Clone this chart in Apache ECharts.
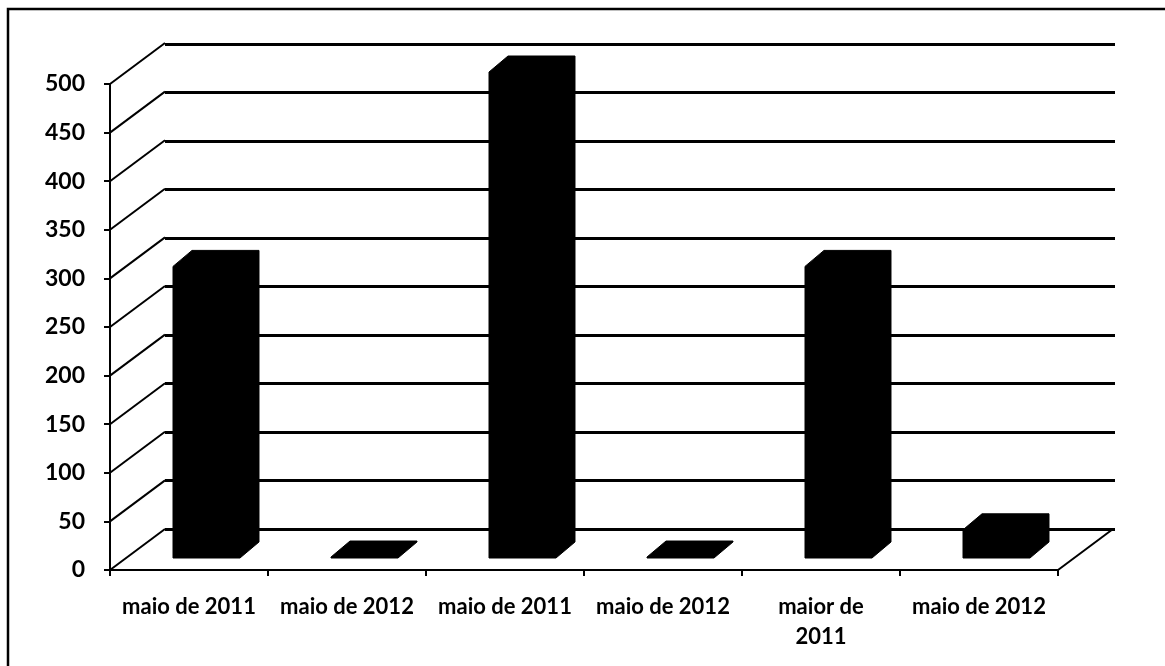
<!DOCTYPE html>
<html><head><meta charset="utf-8">
<script src="https://cdn.jsdelivr.net/npm/echarts@6/dist/echarts.min.js"></script>
<style>html,body{margin:0;padding:0;background:#fff}#c{width:1165px;height:666px}</style>
</head><body><div id="c"></div>
<script>
const categories = ['maio de 2011', 'maio de 2012', 'maio de 2011', 'maio de 2012', 'maior de\n2011', 'maio de 2012'];
const values = [300, 1, 500, 1, 300, 29];
const yMin = 0, yMax = 500, yStep = 50;
const yTicks = [0, 50, 100, 150, 200, 250, 300, 350, 400, 450, 500];

// 3D geometry constants (visual)
const WALL_DX = 55, WALL_DY = -41;
const BAR_OFF_X = 17.5, BAR_OFF_Y = -12, BAR_W = 0.424, BAR_DX = 19, BAR_DY = -16;

const chart = echarts.init(document.getElementById('c'), null, {renderer: 'canvas'});
const font = 'Lato, "Open Sans", sans-serif';

chart.setOption({
  backgroundColor: '#fff',
  animation: false,
  graphic: [{
    type: 'polyline', silent: true, z: 100,
    shape: {points: [[8, 666], [8, 9], [1165, 9]]},
    style: {stroke: '#000', lineWidth: 2.5, fill: null}
  }],
  grid: [
    {left: 110, right: 107, top: 84, bottom: 96},
    {left: 165, right: 50, top: 44, bottom: 137}
  ],
  xAxis: [
    {type: 'category', gridIndex: 0, data: categories, boundaryGap: true,
     axisLine: {show: true, lineStyle: {color: '#000', width: 2}},
     axisTick: {show: true, length: 6, inside: false, lineStyle: {color: '#000', width: 2}},
     axisLabel: {color: '#000', fontFamily: font, fontWeight: 'bold', fontSize: 22, margin: 22, lineHeight: 30, interval: 0},
     splitLine: {show: false}, z: 5},
    {type: 'value', gridIndex: 1, min: 0, max: 1, show: false}
  ],
  yAxis: [
    {type: 'value', gridIndex: 0, min: yMin, max: yMax, interval: yStep,
     axisLine: {show: true, lineStyle: {color: '#000', width: 2}},
     axisTick: {show: true, length: 6, lineStyle: {color: '#000', width: 2}},
     axisLabel: {color: '#000', fontFamily: font, fontWeight: 'bold', fontSize: 23, margin: 25},
     splitLine: {show: false}, z: 5},
    {type: 'value', gridIndex: 1, min: yMin, max: yMax, interval: yStep,
     axisLine: {show: false}, axisTick: {show: false}, axisLabel: {show: false},
     splitLine: {show: true, lineStyle: {color: '#000', width: 3}}}
  ],
  series: [
    { // left wall diagonals
      type: 'custom', xAxisIndex: 0, yAxisIndex: 0, clip: false, silent: true, z: 2,
      data: yTicks.map(v => [0, v]),
      encode: {x: 0, y: 1},
      renderItem: function (params, api) {
        const p = api.coord([api.value(0), api.value(1)]);
        const bw = api.size([1, 0])[0];
        const x = p[0] - bw / 2;
        return {type: 'line', shape: {x1: x, y1: p[1], x2: x + WALL_DX, y2: p[1] + WALL_DY},
                style: {stroke: '#000', lineWidth: 2}};
      }
    },
    { // floor right edge
      type: 'custom', xAxisIndex: 0, yAxisIndex: 0, clip: false, silent: true, z: 2,
      data: [[categories.length - 1, 0]],
      encode: {x: 0, y: 1},
      renderItem: function (params, api) {
        const p = api.coord([api.value(0), api.value(1)]);
        const bw = api.size([1, 0])[0];
        const x = p[0] + bw / 2;
        return {type: 'line', shape: {x1: x, y1: p[1], x2: x + WALL_DX, y2: p[1] + WALL_DY},
                style: {stroke: '#000', lineWidth: 2}};
      }
    },
    { // 3D bars
      type: 'custom', xAxisIndex: 0, yAxisIndex: 0, clip: false, z: 10,
      data: values.map((v, i) => [i, v]),
      encode: {x: 0, y: 1},
      renderItem: function (params, api) {
        const i = api.value(0), v = api.value(1);
        const top = api.coord([i, v]);
        const base = api.coord([i, 0]);
        const bw = api.size([1, 0])[0];
        const cx = top[0] + BAR_OFF_X;
        const w = bw * BAR_W;
        const x0 = cx - w / 2, x1 = cx + w / 2;
        const yt = top[1] + BAR_OFF_Y, yb = base[1] + BAR_OFF_Y;
        const pts = [[x0, yb], [x1, yb], [x1 + BAR_DX, yb + BAR_DY], [x1 + BAR_DX, yt + BAR_DY],
                     [x0 + BAR_DX, yt + BAR_DY], [x0, yt]];
        return {type: 'polygon', shape: {points: pts}, style: {fill: '#000', stroke: '#000', lineWidth: 1}};
      }
    }
  ]
});
</script></body></html>
